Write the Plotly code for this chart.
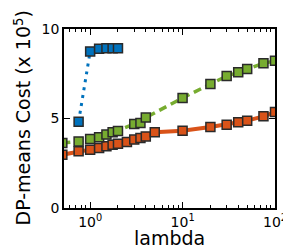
import plotly.graph_objects as go

blue_x = [0.75, 1.0, 1.25, 1.5, 1.75, 2.0]
blue_y = [4.82, 8.75, 8.9, 8.92, 8.93, 8.93]

green_x = [0.5, 0.75, 1.0, 1.25, 1.5, 1.75, 2.0, 3.0, 3.5, 4.0, 10, 20, 30, 40, 50, 75, 100]
green_y = [3.63, 3.72, 3.85, 3.95, 4.1, 4.23, 4.3, 4.69, 4.75, 5.05, 6.15, 6.93, 7.37, 7.58, 7.77, 8.08, 8.22]

orange_x = [0.5, 0.75, 1.0, 1.25, 1.5, 1.75, 2.0, 2.5, 3.0, 3.5, 4.0, 5.0, 10, 20, 30, 40, 50, 75, 100]
orange_y = [2.98, 3.17, 3.26, 3.35, 3.45, 3.54, 3.59, 3.69, 3.82, 3.91, 4.0, 4.23, 4.32, 4.53, 4.65, 4.79, 4.88, 5.12, 5.36]

xticks = [1, 10, 100]
xticktext = ["10<sup>0</sup>", "10<sup>1</sup>", "10<sup>2</sup>"]
yticks = [0, 5, 10]
x_title = "lambda"
y_title = "DP-means Cost (x 10<sup>5</sup>)"

edge = dict(color="#2a2a2a", width=1.5)
fig = go.Figure()
fig.add_trace(go.Scatter(x=orange_x, y=orange_y, mode="lines+markers",
                         line=dict(color="#D95319", width=4, dash="solid"),
                         marker=dict(symbol="square", size=9, color="#D95319", line=edge)))
fig.add_trace(go.Scatter(x=green_x, y=green_y, mode="lines+markers",
                         line=dict(color="#77AC30", width=3.5, dash="8px,5px"),
                         marker=dict(symbol="square", size=9, color="#77AC30", line=edge)))
fig.add_trace(go.Scatter(x=blue_x, y=blue_y, mode="lines+markers",
                         line=dict(color="#0072BD", width=3, dash="3px,5px"),
                         marker=dict(symbol="square", size=9, color="#0072BD", line=edge)))

fig.update_layout(
    width=291, height=247,
    margin=dict(l=56, r=15, t=21, b=47),
    paper_bgcolor="white", plot_bgcolor="white",
    showlegend=False,
    font=dict(family="DejaVu Sans", color="black", size=14),
)
fig.update_xaxes(type="log", range=[-0.283, 2.0],
                 tickvals=xticks, ticktext=xticktext,
                 ticks="inside", ticklen=6, tickwidth=1, tickcolor="black",
                 minor=dict(ticks="inside", ticklen=3, tickcolor="black", dtick="D1", showgrid=False),
                 showline=True, linecolor="black", linewidth=1.5, mirror="ticks",
                 showgrid=False, zeroline=False,
                 tickfont=dict(size=14))
fig.update_yaxes(range=[0, 10], tickvals=yticks,
                 ticks="inside", ticklen=6, tickwidth=1, tickcolor="black",
                 showline=True, linecolor="black", linewidth=1.5, mirror="ticks",
                 showgrid=False, zeroline=False,
                 tickfont=dict(size=14))

fig.add_annotation(text=x_title, xref="paper", yref="paper", x=0.5, y=0,
                   xanchor="center", yanchor="middle", yshift=-30,
                   showarrow=False, font=dict(size=19))
fig.add_annotation(text=y_title, xref="paper", yref="paper", x=0, y=0.5,
                   xanchor="center", yanchor="middle", xshift=-42, textangle=-90,
                   showarrow=False, font=dict(size=19))

fig.write_html("out.html")
